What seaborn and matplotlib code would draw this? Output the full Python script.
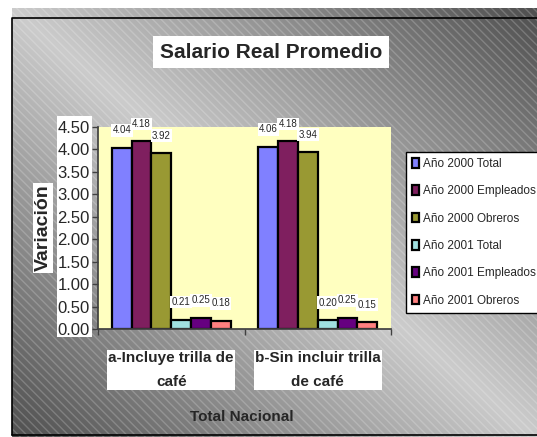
import numpy as np
import pandas as pd
import matplotlib
matplotlib.use("Agg")
import matplotlib.pyplot as plt
from matplotlib.patches import Rectangle
import seaborn as sns

categories = ["a-Incluye trilla de\ncafé", "b-Sin incluir trilla\nde café"]
series = ["Año 2000 Total", "Año 2000 Empleados", "Año 2000 Obreros",
          "Año 2001 Total", "Año 2001 Empleados", "Año 2001 Obreros"]
total_2000 = [4.04, 4.06]
empleados_2000 = [4.18, 4.18]
obreros_2000 = [3.92, 3.94]
total_2001 = [0.21, 0.20]
empleados_2001 = [0.25, 0.25]
obreros_2001 = [0.18, 0.15]
colors = ["#8080FF", "#7F1F5F", "#999933", "#A0E0E0", "#660080", "#FF8080"]

values = [total_2000, empleados_2000, obreros_2000, total_2001, empleados_2001, obreros_2001]
df = pd.DataFrame([(c, s, v[i]) for s, v in zip(series, values) for i, c in enumerate(categories)],
                  columns=["grupo", "serie", "valor"])

sns.set_theme(style="white")
plt.rcParams["font.family"] = ["Liberation Sans", "DejaVu Sans"]

W, H = 537, 437
fig = plt.figure(figsize=(W / 100, H / 100), dpi=100)
fig.patch.set_facecolor("white")

# background: grey diagonal gradient with stripes
bg = fig.add_axes([0, 0, 1, 1], zorder=-10)
xx, yy = np.meshgrid(np.linspace(0, 1, W), np.linspace(0, 1, H))
g = 0.80 - 0.50 * np.abs(xx - yy)
bg.imshow(np.dstack([g, g, g]), extent=(0, W, H, 0), aspect="auto", interpolation="bilinear")
bg.add_patch(Rectangle((12, 8), W, H, facecolor="none", edgecolor=(1, 1, 1, 0.2),
                       hatch="\\\\\\\\", linewidth=0))
bg.add_patch(Rectangle((0, 0), 12, H, facecolor="white", edgecolor="none"))
bg.add_patch(Rectangle((0, 0), W, 8, facecolor="white", edgecolor="none"))
bg.plot([12, 12, W], [435, 18, 18], color="black", lw=1.2)
bg.plot([12, W], [435, 435], color="black", lw=1.2)
bg.add_patch(Rectangle((57, 116), 35, 221, facecolor="white", edgecolor="none"))
bg.set_xlim(0, W)
bg.set_ylim(H, 0)
bg.axis("off")

ax = fig.add_axes([98 / W, 1 - 329 / H, 293 / W, (329 - 127) / H])
ax.set_facecolor("#FFFFC0")
sns.barplot(data=df, x="grupo", y="valor", hue="serie", palette=colors, width=0.81,
            edgecolor="black", linewidth=1.6, saturation=1, ax=ax)
ax.get_legend().remove()

for cont in ax.containers:
    ax.bar_label(cont, fmt="%.2f", padding=9, fontsize=7,
                 bbox=dict(facecolor="white", edgecolor="none", pad=1))

ax.set_xlim(-0.5, 1.5)
ax.set_ylim(0, 4.5)
ax.set_yticks(np.arange(0, 4.51, 0.5))
ax.set_yticklabels([f"{v:.2f}" for v in np.arange(0, 4.51, 0.5)], fontsize=12)
ax.tick_params(axis="y", left=True, length=4, width=1, color="#404040", pad=2)
ax.set_xticks([0, 1])
ax.set_xticklabels(categories, fontsize=11, fontweight="bold", linespacing=1.9)
ax.set_xticks([-0.5, 0.5, 1.5], minor=True)
ax.tick_params(axis="x", which="major", length=0, pad=16)
ax.tick_params(axis="x", which="minor", bottom=True, length=4, width=1, color="#404040")
for lab in ax.get_xticklabels():
    lab.set_bbox(dict(facecolor="white", edgecolor="none", pad=1))
for side in ["top", "right"]:
    ax.spines[side].set_visible(False)
ax.spines["left"].set_color("#404040")
ax.spines["bottom"].set_color("#404040")
ax.set_xlabel("")
ax.set_ylabel("")

fig.text(43 / W, 1 - 228 / H, "Variación", rotation=90, ha="center", va="center",
         fontsize=14, fontweight="bold",
         bbox=dict(facecolor="white", edgecolor="none", pad=1))
fig.text(271 / W, 1 - 52 / H, "Salario Real Promedio", ha="center", va="center",
         fontsize=15, fontweight="bold",
         bbox=dict(facecolor="white", edgecolor="none", pad=5))
fig.text(242 / W, 1 - 417 / H, "Total Nacional", ha="center", va="center",
         fontsize=11, fontweight="bold")

handles, labels = ax.get_legend_handles_labels()
leg = fig.legend(handles, labels, loc="upper left", bbox_to_anchor=(406 / W, 1 - 152 / H),
                 borderaxespad=0, frameon=True, fancybox=False, fontsize=8.5,
                 handlelength=0.6, handleheight=0.9, handletextpad=0.3,
                 labelspacing=1.3, borderpad=0.5)
leg.get_frame().set_edgecolor("black")
leg.get_frame().set_linewidth(1)
leg.get_frame().set_facecolor("white")
leg.get_frame().set_alpha(1)

fig.savefig("out.png", dpi=100)
